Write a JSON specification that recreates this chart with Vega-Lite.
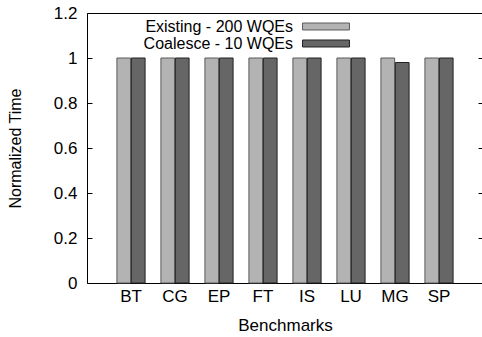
{
  "$schema": "https://vega.github.io/schema/vega-lite/v6.json",
  "autosize": {"type": "none"},
  "padding": {"left": 87, "top": 13, "right": 0, "bottom": 54},
  "width": 396,
  "height": 270,
  "config": {
    "font": "Liberation Sans",
    "view": {"stroke": "black", "strokeWidth": 1},
    "axis": {"labelFont": "Liberation Sans", "titleFont": "Liberation Sans", "labelColor": "black", "titleColor": "black", "titleFontWeight": "normal", "grid": false}
  },
  "data": {
    "values": [
      {"benchmark": "BT", "config": "Existing - 200 WQEs", "time": 1},
      {"benchmark": "BT", "config": "Coalesce - 10 WQEs", "time": 1},
      {"benchmark": "CG", "config": "Existing - 200 WQEs", "time": 1},
      {"benchmark": "CG", "config": "Coalesce - 10 WQEs", "time": 1},
      {"benchmark": "EP", "config": "Existing - 200 WQEs", "time": 1},
      {"benchmark": "EP", "config": "Coalesce - 10 WQEs", "time": 1},
      {"benchmark": "FT", "config": "Existing - 200 WQEs", "time": 1},
      {"benchmark": "FT", "config": "Coalesce - 10 WQEs", "time": 1},
      {"benchmark": "IS", "config": "Existing - 200 WQEs", "time": 1},
      {"benchmark": "IS", "config": "Coalesce - 10 WQEs", "time": 1},
      {"benchmark": "LU", "config": "Existing - 200 WQEs", "time": 1},
      {"benchmark": "LU", "config": "Coalesce - 10 WQEs", "time": 1},
      {"benchmark": "MG", "config": "Existing - 200 WQEs", "time": 1},
      {"benchmark": "MG", "config": "Coalesce - 10 WQEs", "time": 0.98},
      {"benchmark": "SP", "config": "Existing - 200 WQEs", "time": 1},
      {"benchmark": "SP", "config": "Coalesce - 10 WQEs", "time": 1}
    ]
  },
  "layer": [
    {
      "mark": {"type": "bar", "strokeWidth": 1},
      "encoding": {
        "x": {
          "field": "benchmark", "type": "nominal", "sort": null,
          "scale": {"paddingInner": 0.36, "paddingOuter": 0.68},
          "axis": {"title": "Benchmarks", "labelAngle": 0, "labelFontSize": 17, "titleFontSize": 17, "ticks": false, "domain": false, "labelPadding": 5, "titlePadding": 13}
        },
        "xOffset": {
          "field": "config", "type": "nominal", "sort": ["Existing - 200 WQEs", "Coalesce - 10 WQEs"],
          "scale": {"paddingInner": 0.05}
        },
        "y": {
          "field": "time", "type": "quantitative",
          "scale": {"domain": [0, 1.2], "nice": false},
          "axis": {"title": "Normalized Time", "values": [0, 0.2, 0.4, 0.6, 0.8, 1, 1.2], "format": "~g", "labelFontSize": 17, "titleFontSize": 16, "tickSize": -5, "tickColor": "black", "domain": false, "labelPadding": 15, "titlePadding": 30}
        },
        "color": {
          "field": "config", "type": "nominal",
          "scale": {"domain": ["Existing - 200 WQEs", "Coalesce - 10 WQEs"], "range": ["#b3b3b3", "#666666"]},
          "legend": {
            "title": null, "orient": "none", "legendX": 230, "legendY": 4.5,
            "symbolType": "M-2.76,-0.41H2.76V0.41H-2.76Z", "symbolSize": 289, "symbolStrokeColor": "#333333", "symbolStrokeWidth": 1,
            "labelAlign": "right", "labelOffset": -42, "labelFontSize": 16, "labelFont": "Liberation Sans", "labelColor": "black",
            "rowPadding": 0, "padding": 0
          }
        },
        "stroke": {
          "field": "config", "type": "nominal",
          "scale": {"domain": ["Existing - 200 WQEs", "Coalesce - 10 WQEs"], "range": ["#5a5a5a", "#222222"]},
          "legend": null
        }
      }
    },
    {
      "mark": {"type": "bar", "opacity": 0},
      "encoding": {
        "x": {"field": "benchmark", "type": "nominal", "sort": null},
        "y": {
          "field": "time", "type": "quantitative",
          "axis": {"orient": "right", "title": null, "labels": false, "values": [0, 0.2, 0.4, 0.6, 0.8, 1, 1.2], "tickSize": -5, "tickColor": "black", "domain": false}
        }
      }
    }
  ],
  "resolve": {"axis": {"y": "independent"}}
}
